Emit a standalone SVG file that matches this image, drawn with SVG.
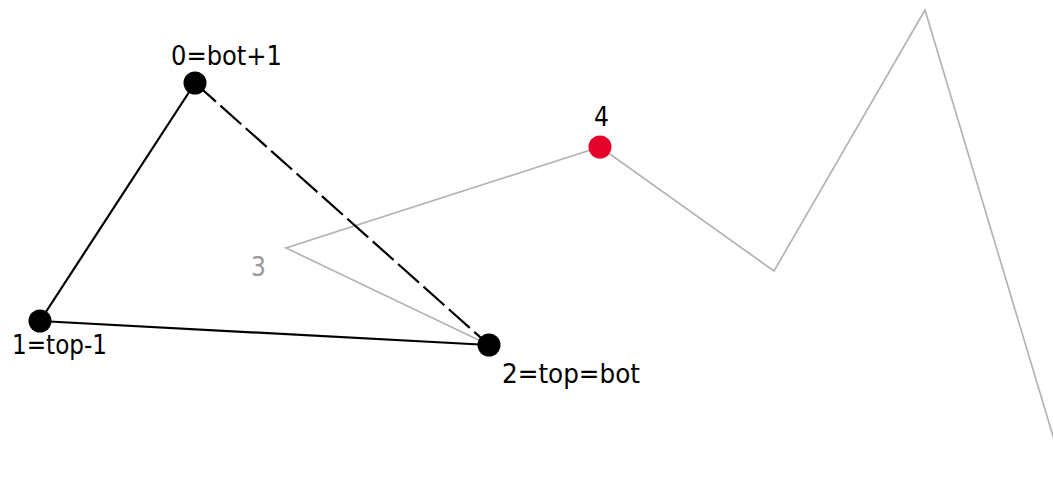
<svg xmlns="http://www.w3.org/2000/svg" width="1053" height="484" viewBox="0 0 1053 484">
<style>
.lbl{font-family:"DejaVu Sans Condensed","DejaVu Sans",Verdana,sans-serif;font-size:26px;fill:#000}
.gray{fill:#999}
.edge{stroke:#000;stroke-width:2.2;fill:none}
.dash{stroke-dasharray:28 6}
.poly{stroke:#b4b4b4;stroke-width:1.7;fill:none}
.node{fill:#000}
.red{fill:#e3002b}
</style>
<rect width="1053" height="484" fill="#fff"/>
<g id="connectors">
<polyline class="poly" points="489,345 286,248 600,147 774,271 925,10 1062,466"/>
<line class="edge" x1="195" y1="83" x2="40" y2="321"/>
<line class="edge" x1="40" y1="321" x2="489" y2="345"/>
<line class="edge dash" x1="195" y1="83" x2="489" y2="345"/>
</g>
<g id="node0"><circle class="node" cx="195" cy="83" r="11.5"/><text class="lbl" x="171" y="65" textLength="111" lengthAdjust="spacingAndGlyphs">0=bot+1</text></g>
<g id="node1"><circle class="node" cx="40" cy="321" r="11.5"/><text class="lbl" x="12" y="354" textLength="95" lengthAdjust="spacingAndGlyphs">1=top-1</text></g>
<g id="node2"><circle class="node" cx="489" cy="345" r="11.5"/><text class="lbl" x="502" y="383" textLength="138" lengthAdjust="spacingAndGlyphs">2=top=bot</text></g>
<g id="node3"><text class="lbl gray" x="251" y="276">3</text></g>
<g id="node4"><circle class="red" cx="600" cy="147" r="11.5"/><text class="lbl" x="594" y="126">4</text></g>
</svg>
